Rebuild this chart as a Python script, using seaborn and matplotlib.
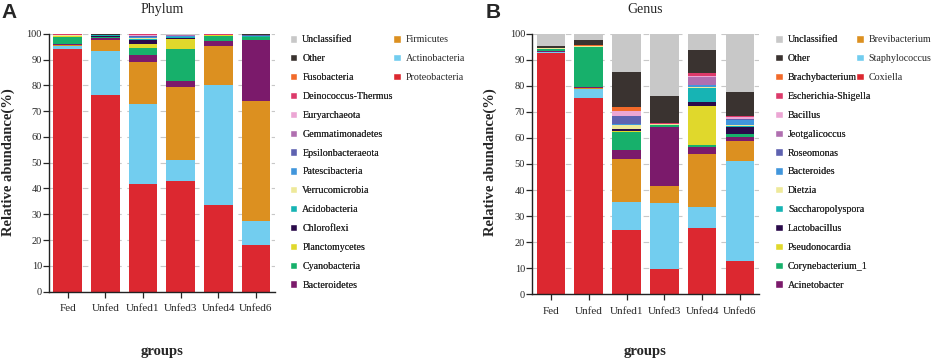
import numpy as np
import pandas as pd
import matplotlib
matplotlib.use("Agg")
import matplotlib.pyplot as plt
from matplotlib.patches import Patch
import seaborn as sns

groups = ["Fed", "Unfed", "Unfed1", "Unfed3", "Unfed4", "Unfed6"]

# stacking order, bottom -> top
phylum_taxa = ["Proteobacteria", "Actinobacteria", "Firmicutes", "Bacteroidetes",
               "Cyanobacteria", "Planctomycetes", "Chloroflexi", "Acidobacteria",
               "Verrucomicrobia", "Patescibacteria", "Epsilonbacteraeota",
               "Gemmatimonadetes", "Euryarchaeota", "Deinococcus-Thermus",
               "Fusobacteria", "Other", "Unclassified"]
genus_taxa = ["Coxiella", "Staphylococcus", "Brevibacterium", "Acinetobacter",
              "Corynebacterium_1", "Pseudonocardia", "Lactobacillus",
              "Saccharopolyspora", "Dietzia", "Bacteroides", "Roseomonas",
              "Jeotgalicoccus", "Bacillus", "Escherichia-Shigella",
              "Brachybacterium", "Other", "Unclassified"]

# relative abundance (%) per group, same order as the taxa lists
phy_fed    = [94.1, 1.3, 0.2, 0.5, 2.6, 0.3, 0.1, 0.1, 0.3, 0.05, 0.05, 0.05, 0.05, 0.05, 0.05, 0.1, 0.1]
phy_unfed  = [76.3, 17.1, 4.4, 0.4, 0.6, 0.1, 0.1, 0.4, 0.1, 0.1, 0, 0, 0, 0.1, 0, 0.1, 0.2]
phy_unfed1 = [41.7, 30.9, 16.3, 2.9, 2.8, 1.4, 1.6, 0.5, 0.3, 0.4, 0.2, 0.2, 0.2, 0.4, 0.1, 0.1, 0]
phy_unfed3 = [42.8, 8.2, 28.3, 2.5, 12.3, 3.8, 0.5, 0.3, 0.2, 0.3, 0.1, 0.1, 0, 0.1, 0, 0.2, 0.3]
phy_unfed4 = [33.5, 46.8, 14.9, 2.1, 2.0, 0.1, 0.1, 0.1, 0, 0, 0, 0, 0, 0.2, 0.1, 0.1, 0]
phy_unfed6 = [17.9, 9.5, 46.7, 23.6, 1.0, 0.1, 0.1, 0.1, 0, 0.3, 0.3, 0, 0, 0, 0, 0.2, 0.2]

gen_fed    = [92.8, 0.2, 0.1, 0.5, 0.5, 0.1, 0, 0, 0.2, 0, 0, 0, 0, 0, 0, 1.0, 4.6]
gen_unfed  = [75.3, 3.7, 0.2, 0.4, 15.5, 0, 0, 0, 0.4, 0, 0, 0, 0, 0, 0.3, 1.8, 2.4]
gen_unfed1 = [24.6, 10.8, 16.4, 3.6, 7.0, 0.2, 0.7, 0.3, 1.5, 0.4, 2.8, 0.3, 1.6, 0.3, 1.4, 13.5, 14.6]
gen_unfed3 = [9.7, 25.2, 6.8, 22.7, 0.6, 0, 0, 0, 0.2, 0, 0, 0, 0.2, 0.3, 0, 10.5, 23.8]
gen_unfed4 = [25.3, 8.0, 20.7, 2.7, 0.6, 15.1, 1.6, 5.2, 0.5, 0.6, 0, 3.3, 0.3, 1.2, 0, 8.6, 6.3]
gen_unfed6 = [12.7, 38.6, 7.5, 1.7, 0.9, 0, 3.0, 0.2, 0.3, 2.1, 0.2, 0, 0.7, 0.6, 0, 9.2, 22.3]

stack_colors = ["#dc2830", "#72cdef", "#dc9020", "#7b1a6b", "#17b06b", "#e0d82c",
                "#2a0a4a", "#17b4b4", "#eee99a", "#4196dc", "#5e62b0", "#b06fb0",
                "#eca6d4", "#dc3a6a", "#f26a2a", "#3a3330", "#c8c8c8"]

sns.set_style("ticks")
plt.rcParams['font.family'] = ['Liberation Serif', 'DejaVu Serif']

fig = plt.figure(figsize=(9.41, 3.64), dpi=100)
axA = fig.add_axes([0.052, 0.199, 0.240, 0.708])
axB = fig.add_axes([0.5654, 0.192, 0.241, 0.715])


def stacked_panel(ax, taxa, rows, title, lx, ly, leg_x1, leg_x2, letter, letter_x):
    df = pd.DataFrame(rows, index=groups, columns=taxa)
    cum = df.cumsum(axis=1)
    # draw cumulative bars from the top layer down so each one covers the rest
    for i in range(len(taxa) - 1, -1, -1):
        sns.barplot(x=groups, y=cum[taxa[i]].values, color=stack_colors[i],
                    saturation=1, width=0.76, linewidth=0, errorbar=None,
                    ax=ax, zorder=2)
    ax.set_xlim(-0.5, 5.5)
    ax.set_ylim(0, 100)
    ax.set_yticks(range(0, 101, 10))
    ax.set_axisbelow(True)
    ax.yaxis.grid(True, linestyle=(0, (5, 5)), color="#c8c8c8", lw=0.8)
    ax.xaxis.grid(False)
    sns.despine(ax=ax)
    for s in ["left", "bottom"]:
        ax.spines[s].set_linewidth(1.0)
        ax.spines[s].set_color("#222222")
    ax.tick_params(axis="y", labelsize=7.5, length=4, width=0.9, pad=1)
    ax.tick_params(axis="x", labelsize=8, length=4, width=0.9, pad=5)
    ax.set_xlabel("")
    ax.set_ylabel("")

    fig.text(lx, 0.975, title, ha="center", va="center", fontsize=10)
    fig.text(lx, 0.035, "groups", ha="center", va="center", fontsize=10.5,
             fontweight="bold")
    fig.text(ly, 0.555, "Relative abundance(%)", ha="center", va="center",
             rotation=90, fontsize=10.5, fontweight="bold")
    fig.text(letter_x, 0.965, letter, ha="left", va="center", fontsize=15,
             fontweight="bold", family="Liberation Sans")

    handles = [Patch(facecolor=stack_colors[i], label=taxa[i]) for i in range(len(taxa))]
    col1 = handles[3:][::-1]
    col2 = handles[:3][::-1]
    common = dict(loc="upper left", frameon=False, fontsize=7.2, borderpad=0,
                  borderaxespad=0, handlelength=0.75, handleheight=0.75,
                  handletextpad=0.5, labelspacing=0.97)
    leg1 = fig.legend(handles=col1, bbox_to_anchor=(leg_x1, 0.903), **common)
    fig.legend(handles=col2, bbox_to_anchor=(leg_x2, 0.903), **common)
    fig.add_artist(leg1)


stacked_panel(axA, phylum_taxa,
              [phy_fed, phy_unfed, phy_unfed1, phy_unfed3, phy_unfed4, phy_unfed6],
              "Phylum", 0.172, 0.009, 0.308, 0.418, "A", 0.002)
stacked_panel(axB, genus_taxa,
              [gen_fed, gen_unfed, gen_unfed1, gen_unfed3, gen_unfed4, gen_unfed6],
              "Genus", 0.686, 0.521, 0.824, 0.91, "B", 0.516)

fig.savefig("out.png", dpi=100)
